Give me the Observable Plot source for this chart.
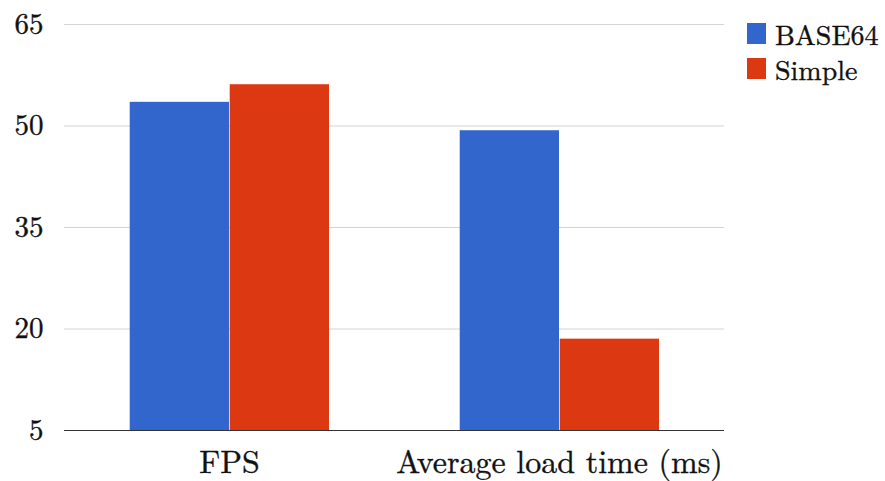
<!DOCTYPE html>
<html>
<head>
<meta charset="utf-8">
<script src="https://cdn.jsdelivr.net/npm/d3@7"></script>
<script src="https://cdn.jsdelivr.net/npm/@observablehq/plot@0.6"></script>
<style>
  body { margin: 0; background: #fff; font-family: 'Latin Modern Roman', 'Liberation Serif', serif; }
  #wrap { display: flex; width: 885px; height: 481px; }
  #chart svg, #chart svg text { font-family: 'Latin Modern Roman', 'Liberation Serif', serif !important; }
  #chart svg text { stroke: #111; stroke-width: 0.35px; }
  g[aria-label="fx-axis tick label"] text { font-size: 32px; }
  #legend { padding-top: 16px; padding-left: 7px; }
  .item { display: flex; align-items: center; height: 35px; font-size: 28px; color: #111; -webkit-text-stroke: 0.35px #111; }
  .sw { width: 19px; height: 21px; margin-right: 9px; }
  .lab { display: inline-block; height: 26px; line-height: 26px; overflow: visible; position: relative; top: -1px; }
</style>
</head>
<body>
<div id="wrap"><div id="chart"></div><div id="legend"></div></div>
<script>
// Metrics compared, and the two encodings measured for each
const metrics = ["FPS", "Average load time (ms)"];
const series = ["BASE64", "Simple"];
const base64Values = [53.5, 49.3];
const simpleValues = [56.1, 18.5];
const yTicks = [5, 20, 35, 50, 65];
const colors = ["#3366cc", "#dc3912"];

const valuesBySeries = { BASE64: base64Values, Simple: simpleValues };
const data = metrics.flatMap((metric, i) =>
  series.map(s => ({ metric, series: s, value: valuesBySeries[s][i] }))
);
const yMin = yTicks[0];

const chart = Plot.plot({
  width: 740,
  height: 481,
  marginLeft: 64,
  marginRight: 16,
  marginTop: 24,
  marginBottom: 51,
  style: { fontFamily: "'Latin Modern Roman', 'Liberation Serif', serif", fontSize: "29px", color: "#111", background: "white" },
  fx: { domain: metrics, padding: 0, label: null, axis: "bottom", tickSize: 0, tickPadding: 20 },
  x: { domain: series, paddingInner: 0, paddingOuter: 0.65, axis: null },
  y: { domain: [yMin, yTicks[yTicks.length - 1]], ticks: yTicks, label: null, tickSize: 0, tickPadding: 21 },
  color: { domain: series, range: colors },
  marks: [
    Plot.ruleY(yTicks.slice(1), { stroke: "#d4d4d4", strokeWidth: 1 }),
    Plot.barY(data, { fx: "metric", x: "series", y1: () => yMin, y2: "value", fill: "series", insetLeft: 0.7 }),
    Plot.ruleY([yMin], { stroke: "#333", strokeWidth: 1 })
  ]
});
document.getElementById("chart").appendChild(chart);

// Legend beside the chart
const legend = document.getElementById("legend");
series.forEach((s, i) => {
  const item = document.createElement("div");
  item.className = "item";
  const sw = document.createElement("span");
  sw.className = "sw";
  sw.style.background = colors[i];
  const lab = document.createElement("span");
  lab.className = "lab";
  lab.textContent = s;
  item.appendChild(sw);
  item.appendChild(lab);
  legend.appendChild(item);
});
</script>
</body>
</html>
